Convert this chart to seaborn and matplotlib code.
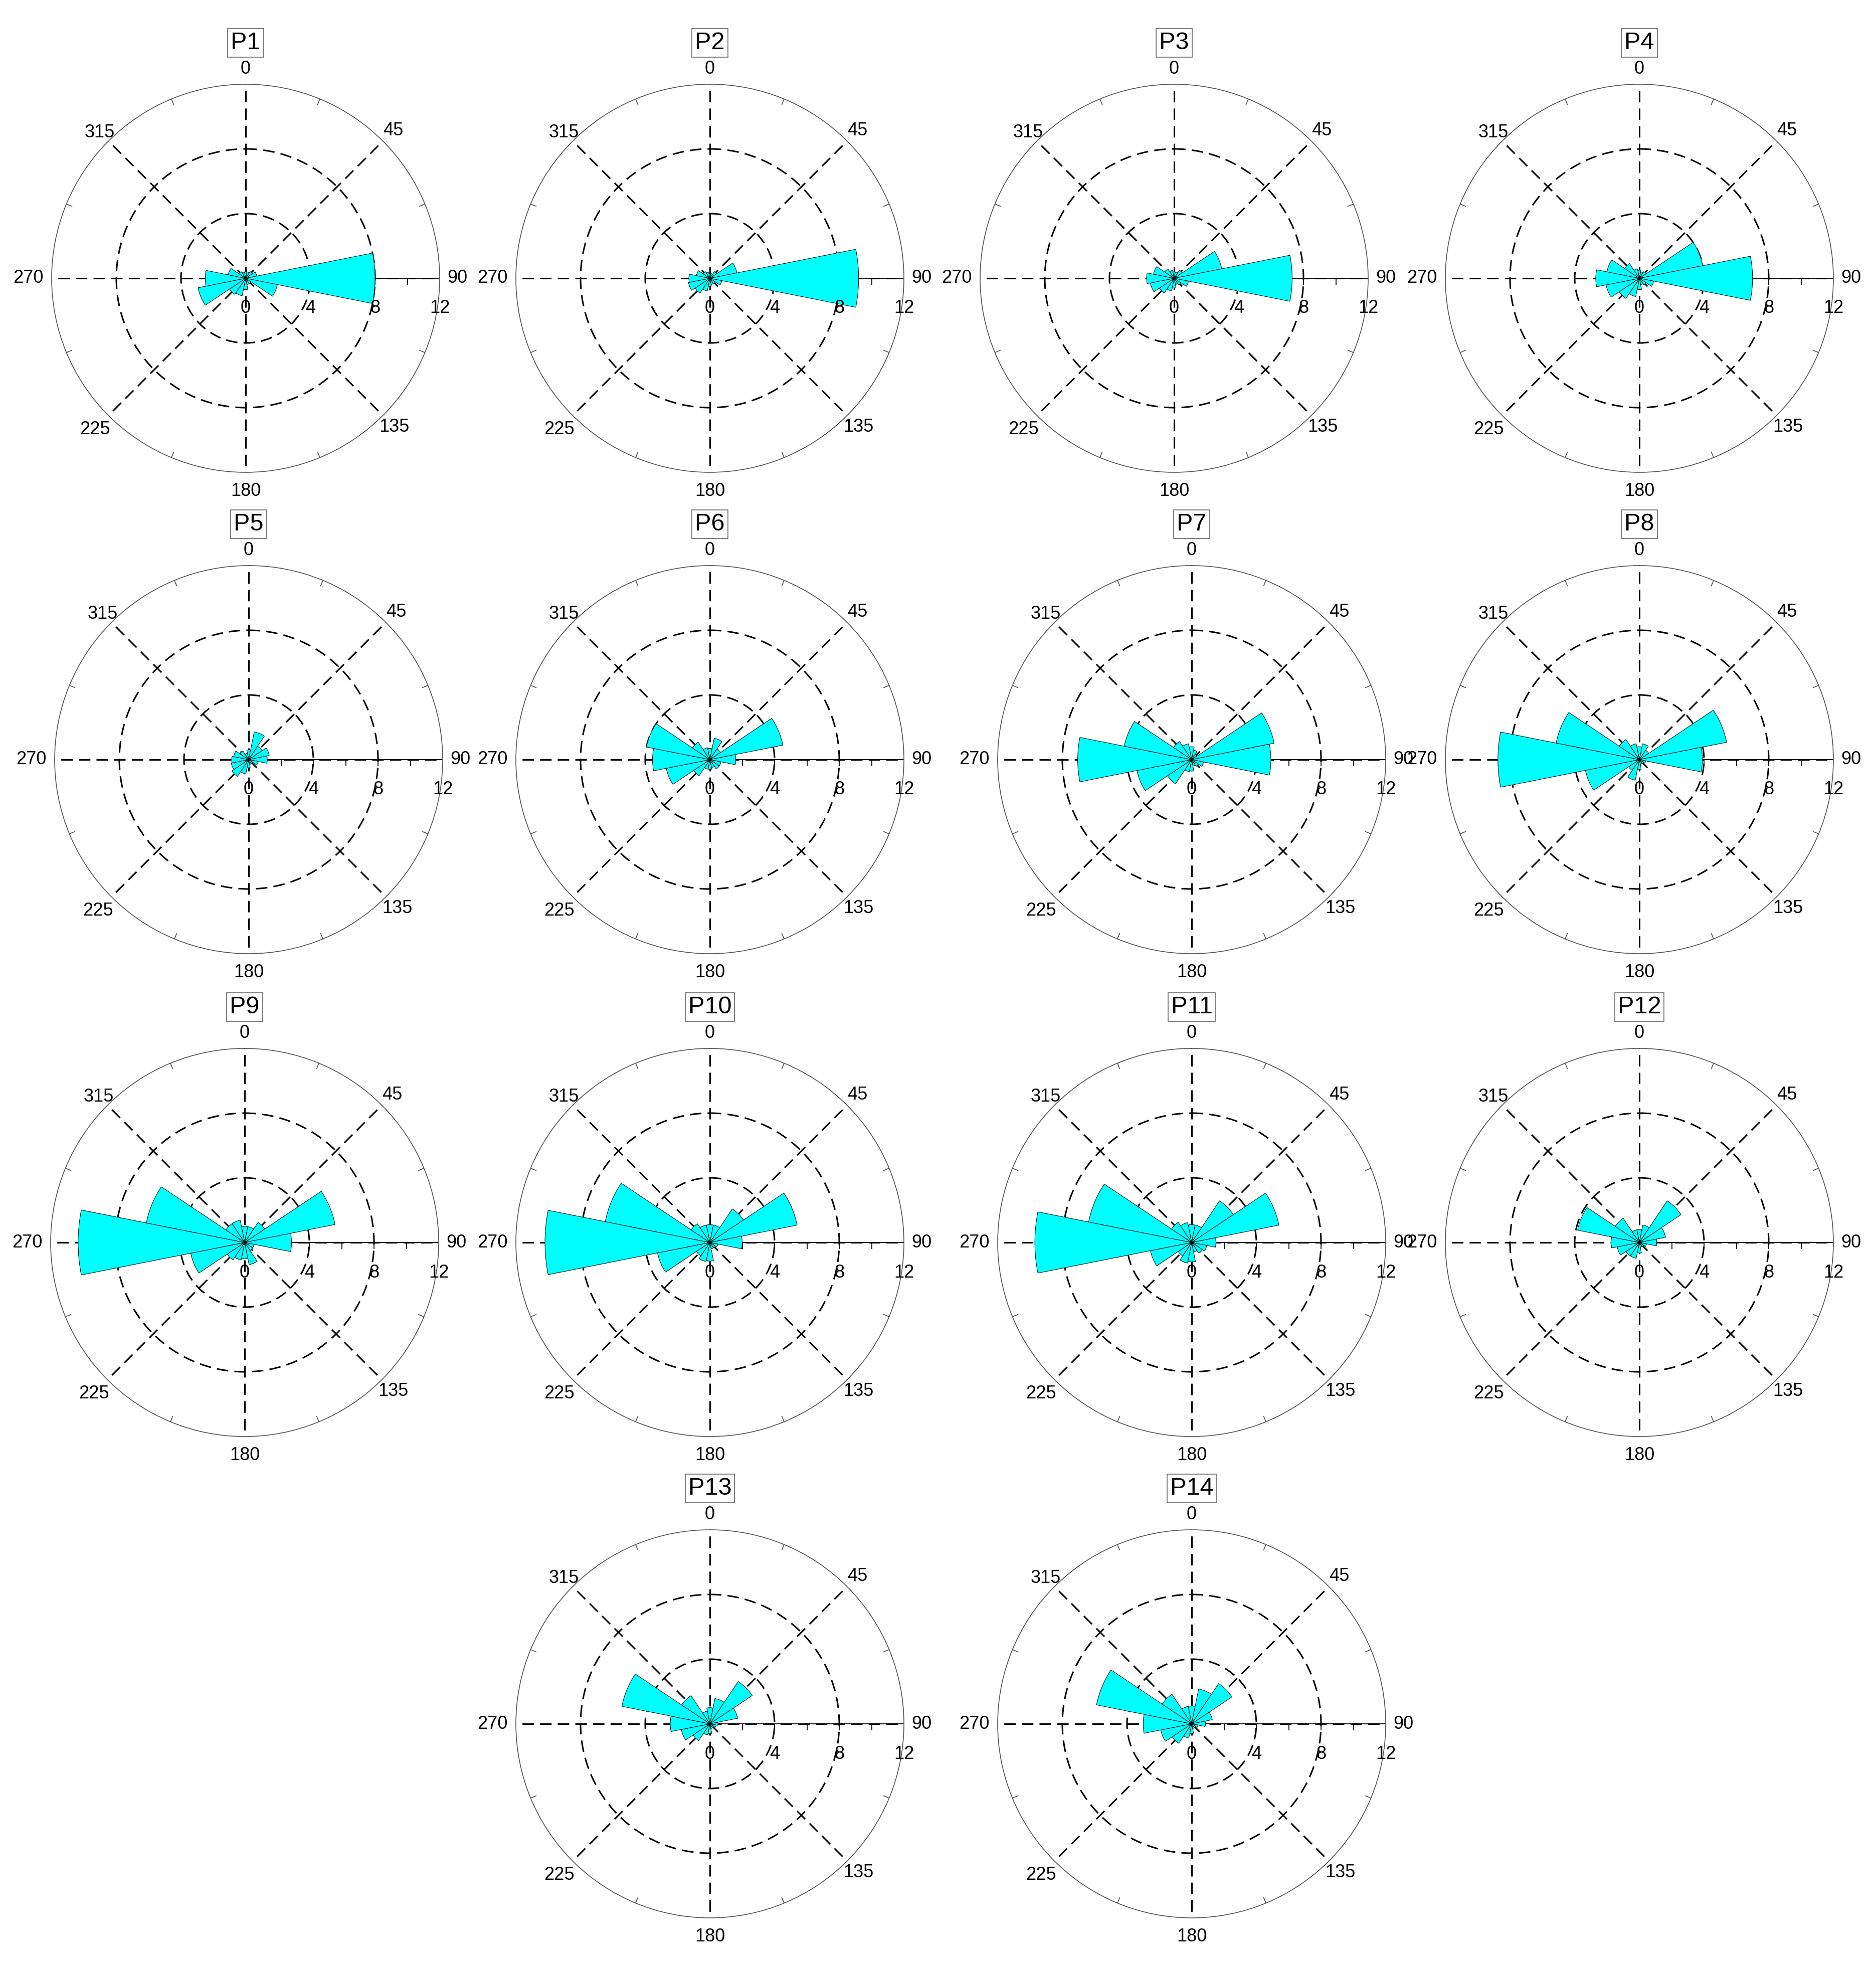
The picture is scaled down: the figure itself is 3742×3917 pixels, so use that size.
import numpy as np
import pandas as pd
import matplotlib
matplotlib.use("Agg")
import matplotlib.pyplot as plt
import matplotlib.transforms as mtransforms
import seaborn as sns

sns.set_theme(style="white")
plt.rcParams['font.family'] = ['Liberation Sans', 'DejaVu Sans']

# bin centres of the rose petals (degrees, clockwise from north)
directions = [0, 22.5, 45, 67.5, 90, 112.5, 135, 157.5,
              180, 202.5, 225, 247.5, 270, 292.5, 315, 337.5]

p1 = [0.4, 0.4, 0.5, 0.7, 8.0, 2.0, 0.4, 0.4, 0.7, 1.1, 1.2, 3.0, 2.5, 1.1, 0.5, 0.4]
p2 = [0.3, 0.3, 0.5, 1.7, 9.2, 0.75, 0.4, 0.4, 0.5, 0.8, 1.1, 1.35, 1.3, 0.85, 0.5, 0.4]
p3 = [0.4, 0.4, 0.6, 3.0, 7.3, 0.9, 0.5, 0.4, 0.6, 0.8, 1.1, 1.5, 1.7, 1.3, 0.7, 0.5]
p4 = [0.5, 0.4, 0.5, 4.0, 7.0, 0.9, 0.5, 0.4, 0.7, 1.15, 1.5, 2.1, 2.7, 2.05, 1.1, 0.6]
p5 = [0.6, 1.75, 1.0, 1.3, 1.15, 0.6, 0.3, 0.3, 0.5, 0.9, 1.25, 1.1, 1.05, 0.95, 0.65, 0.4]
p6 = [0.7, 1.35, 0.8, 4.6, 1.6, 0.7, 0.7, 0.5, 0.6, 0.6, 1.2, 2.75, 3.55, 4.0, 1.3, 0.75]
p7 = [0.8, 0.6, 0.4, 5.2, 4.9, 0.75, 0.5, 0.4, 0.7, 0.76, 1.8, 3.45, 7.05, 4.25, 1.35, 1.0]
p8 = [0.8, 1.0, 0.7, 5.5, 3.9, 0.4, 0.3, 0.3, 0.6, 1.3, 0.8, 3.4, 8.75, 5.25, 1.5, 1.0]
p9 = [1.0, 1.0, 1.5, 5.7, 2.9, 0.6, 0.6, 1.4, 1.0, 1.1, 1.3, 3.4, 10.3, 6.2, 1.4, 1.4]
p10 = [1.1, 1.1, 2.5, 5.5, 2.0, 0.5, 0.4, 0.4, 1.15, 1.2, 1.0, 3.3, 10.2, 6.6, 1.4, 1.1]
p11 = [1.1, 1.1, 3.1, 5.5, 1.5, 0.95, 0.8, 0.6, 1.2, 1.3, 1.0, 2.6, 9.7, 6.5, 1.5, 1.25]
p12 = [0.8, 1.1, 3.1, 1.65, 1.07, 0.45, 0.3, 0.3, 0.65, 1.0, 1.0, 1.4, 1.75, 3.9, 1.8, 0.8]
p13 = [1.0, 1.6, 3.15, 1.75, 0.5, 0.4, 0.3, 0.3, 0.6, 0.7, 1.25, 1.8, 2.45, 5.55, 2.1, 0.8]
p14 = [1.1, 2.2, 3.0, 1.3, 0.85, 0.4, 0.3, 0.3, 0.6, 0.9, 1.45, 1.95, 3.0, 6.0, 2.2, 1.1]

panel_names = ['P1', 'P2', 'P3', 'P4', 'P5', 'P6', 'P7', 'P8',
               'P9', 'P10', 'P11', 'P12', 'P13', 'P14']
panel_freqs = [p1, p2, p3, p4, p5, p6, p7, p8, p9, p10, p11, p12, p13, p14]

angle_labels = [0, 45, 90, 135, 180, 225, 270, 315]
radial_labels = [0, 4, 8, 12]

W, H = 3742, 3917
R_PX = 387
centers = [(490, 555), (1416, 555), (2342, 555), (3270, 555),
           (496, 1515), (1416, 1515), (2377, 1515), (3270, 1515),
           (488, 2478), (1416, 2478), (2377, 2478), (3270, 2478),
           (1416, 3438), (2377, 3438)]
label_r = {0: 12.95, 45: 12.9, 90: 13.1, 135: 13.0, 180: 13.17, 225: 13.2, 270: 13.45, 315: 12.75}

fig = plt.figure(figsize=(W / 100, H / 100), dpi=100)
fig.patch.set_facecolor('white')

for name, vals, (cx, cy) in zip(panel_names, panel_freqs, centers):
    ax = fig.add_axes([(cx - R_PX) / W, 1 - (cy + R_PX) / H, 2 * R_PX / W, 2 * R_PX / H],
                      projection='polar')
    ax.set_theta_zero_location('N')
    ax.set_theta_direction(-1)
    ax.set_ylim(0, 12)
    ax.set_xticks(np.deg2rad(angle_labels))
    ax.set_yticks([4, 8])
    ax.set_xticklabels([])
    ax.set_yticklabels([])
    ax.tick_params(length=0)
    ax.grid(True, color='black', linestyle=(0, (7.5, 4)), linewidth=2.2)
    ax.set_axisbelow(True)
    ax.spines['polar'].set_edgecolor('#555555')
    ax.spines['polar'].set_linewidth(1.2)

    df = pd.DataFrame({'direction': directions, 'freq': vals})
    ax.bar(np.deg2rad(df['direction']), df['freq'], width=np.deg2rad(22.5),
           color='#00FFFF', edgecolor='black', linewidth=0.7, zorder=3)

    # solid radial axis towards 90 with small ticks
    ax.plot([np.pi / 2, np.pi / 2], [0, 12], color='black', lw=1.3, zorder=2)
    ax.plot([np.pi / 2] * 5, [2, 4, 6, 8, 10], ls='none', marker=3, ms=9,
            mew=1.3, color='black', zorder=2)

    # minor ticks on the outer circle
    for t in [22.5, 67.5, 112.5, 157.5, 202.5, 247.5, 292.5, 337.5]:
        ax.plot([np.deg2rad(t)] * 2, [11.63, 12], color='#555555', lw=1.2, zorder=2)

    trans = mtransforms.offset_copy(ax.transData, fig=fig, x=0, y=-60, units='dots')
    for r in radial_labels:
        ax.text(np.pi / 2, r, str(r), transform=trans, ha='center', va='center',
                fontsize=26, color='black')

    for a in angle_labels:
        ax.text(np.deg2rad(a), label_r[a], str(a), ha='center', va='center',
                fontsize=26, color='black')

    ax.text(0, 14.55, name, ha='center', va='center', fontsize=35, color='black',
            bbox=dict(boxstyle='square,pad=0.12', fc='white', ec='#666666', lw=1.2))

fig.savefig('out.png', dpi=100, facecolor='white')
